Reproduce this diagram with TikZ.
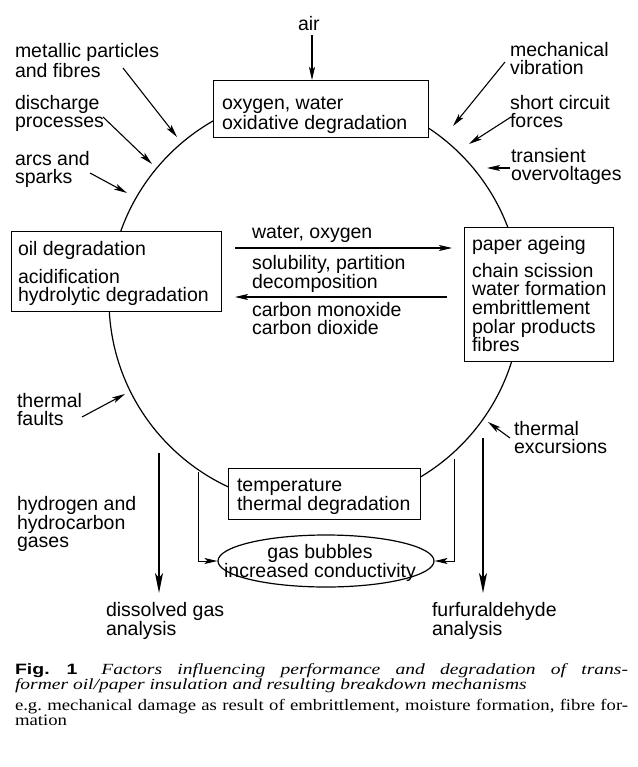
\documentclass[tikz,border=0pt]{standalone}
\usepackage{fontspec}
\usetikzlibrary{arrows.meta,shapes.geometric}
\newfontfamily\dfont{Liberation Sans}
\newfontfamily\figfont[FakeStretch=1.3]{Liberation Sans}
\newfontfamily\capit[FakeStretch=1.26]{Liberation Serif}
\newfontfamily\caprm[FakeStretch=1.17]{Liberation Serif}
\newcommand\stk[1]{\vtop{\baselineskip=18pt\halign{##\hfil\cr#1\crcr}}}
\newcommand\stkc[1]{\vtop{\baselineskip=19pt\halign{\hfil##\hfil\cr#1\crcr}}}
\tikzset{
  lbl/.style={anchor=base west, inner sep=0pt, outer sep=0pt},
  boxn/.style={draw, line width=1.2pt, fill=white, anchor=north west, inner sep=0pt},
  arr/.style={line width=1.1pt, -{Stealth[length=13pt,width=6pt,inset=3pt]}},
  bigarr/.style={line width=1.8pt, -{Stealth[length=20pt,width=8pt,inset=5pt]}},
  brk/.style={line width=0.9pt, -{Stealth[length=13pt,width=6pt,inset=3pt]}},
}
\begin{document}
\begin{tikzpicture}[x=1pt,y=-1pt,font=\dfont\fontsize{19.5}{18}\selectfont]
\useasboundingbox (0,0) rectangle (637,767);
% ring
\node[draw, circle, line width=1.2pt, minimum size=412pt, inner sep=0pt] (ring) at (315,300) {};
% boxes
\node[boxn, minimum width=215pt, minimum height=57pt] (topbox) at (213,80) {};
\node[boxn, minimum width=210pt, minimum height=80pt] (oilbox) at (11,231) {};
\node[boxn, minimum width=149pt, minimum height=134pt] (paperbox) at (464,227) {};
\node[boxn, minimum width=192pt, minimum height=51pt] (tempbox) at (228,468) {};
\node[draw, ellipse, line width=1.2pt, fill=white, minimum width=216pt, minimum height=52pt, inner sep=0pt] (gas) at (326,561) {};
% box texts
\node[lbl] (toptxt) at (222,110) {\stk{oxygen, water\cr oxidative degradation}};
\node[lbl] (oiltitle) at (18,255) {oil degradation};
\node[lbl] (oiltxt) at (18,283) {\stk{acidification\cr hydrolytic degradation}};
\node[lbl] (papertitle) at (472,250) {paper ageing};
\node[lbl] (papertxt) at (472,277) {\vtop{\baselineskip=18.7pt\halign{#\hfil\cr chain scission\cr water formation\cr embrittlement\cr polar products\cr fibres\crcr}}};
\node[lbl] (temptxt) at (237,491) {\stk{temperature\cr thermal degradation}};
\node[anchor=base, inner sep=0pt] (gastxt) at (320,558) {\stkc{gas bubbles\cr increased conductivity}};
% top
\node[lbl] (air) at (298,31) {air};
\coordinate (a1) at (312,35);
\draw[arr] (a1) -- (a1 |- topbox.north);
% left labels
\node[lbl] (metal) at (15,58) {\stk{metallic particles\cr and fibres}};
\node[lbl] (disch) at (15,110) {\stk{discharge\cr processes}};
\node[lbl] (arcs) at (15,166) {\stk{arcs and\cr sparks}};
\node[lbl] (tfault) at (17,407) {\stk{thermal\cr faults}};
\coordinate (m1) at (123,68);  \coordinate (m2) at (177,137);
\coordinate (d1) at (103,117); \coordinate (d2) at (152,164);
\coordinate (s1) at (90,173);  \coordinate (s2) at (127,193);
\coordinate (tf1) at (82,417); \coordinate (tf2) at (125,394);
\draw[arr] (m1) -- (m2);
\draw[arr] (d1) -- (d2);
\draw[arr] (s1) -- (s2);
\draw[arr] (tf1) -- (tf2);
% right labels
\node[lbl] (mech) at (510,57) {\stk{mechanical\cr vibration}};
\node[lbl] (short) at (510,110) {\stk{short circuit\cr forces}};
\node[lbl] (trans) at (511,163) {\stk{transient\cr overvoltages}};
\node[lbl] (texc) at (514,435) {\stk{thermal\cr excursions}};
\coordinate (mv1) at (505,62);  \coordinate (mv2) at (453,126);
\coordinate (sc1) at (511,117); \coordinate (sc2) at (469,144);
\coordinate (tv1) at (510,168); \coordinate (tv2) at (487,168);
\coordinate (te1) at (510,438); \coordinate (te2) at (488,422);
\draw[arr] (mv1) -- (mv2);
\draw[arr] (sc1) -- (sc2);
\draw[arr] (tv1) -- (tv2);
\draw[arr] (te1) -- (te2);
% middle exchange
\node[lbl] (wo) at (252,238) {water, oxygen};
\node[lbl] (sol) at (252,269) {\stk{solubility, partition\cr decomposition}};
\node[lbl] (carb) at (252,316) {\stk{carbon monoxide\cr carbon dioxide}};
\coordinate (wo1) at (235,248); \coordinate (wo2) at (452,248);
\coordinate (sp1) at (447,297); \coordinate (sp2) at (235,297);
\draw[arr] (wo1) -- (wo2);
\draw[arr] (sp1) -- (sp2);
% bottom
\node[lbl] (hydro) at (17,510) {\stk{hydrogen and\cr hydrocarbon\cr gases}};
\node[lbl] (dga) at (106,616) {\stk{dissolved gas\cr analysis}};
\node[lbl] (furf) at (432,616) {\stk{furfuraldehyde\cr analysis}};
\coordinate (dg1) at (159,453); \coordinate (dg2) at (159,593);
\coordinate (fa1) at (483,438); \coordinate (fa2) at (483,593);
\draw[bigarr] (dg1) -- (dg2);
\draw[bigarr] (fa1) -- (fa2);
\coordinate (bl1) at (198,472);
\coordinate (br1) at (454,459);
\draw[brk] (bl1) |- (gas.west);
\draw[brk] (br1) |- (gas.east);
% caption
\node[lbl] (caption) at (15,674) {\vtop{\hsize=613pt\parindent=0pt\tolerance=10000\frenchspacing
  \capit\fontsize{15.5}{15}\selectfont
  {\figfont\bfseries\fontsize{15}{15}\selectfont Fig. 1}\hspace{24pt}{\itshape Factors influencing performance and degradation of trans-\linebreak former oil/paper insulation and resulting breakdown mechanisms}\par
  \vskip 6pt
  \caprm\fontsize{16}{15}\selectfont e.g. mechanical damage as result of embrittlement, moisture formation, fibre for-\linebreak mation\par}};
\end{tikzpicture}
\end{document}
